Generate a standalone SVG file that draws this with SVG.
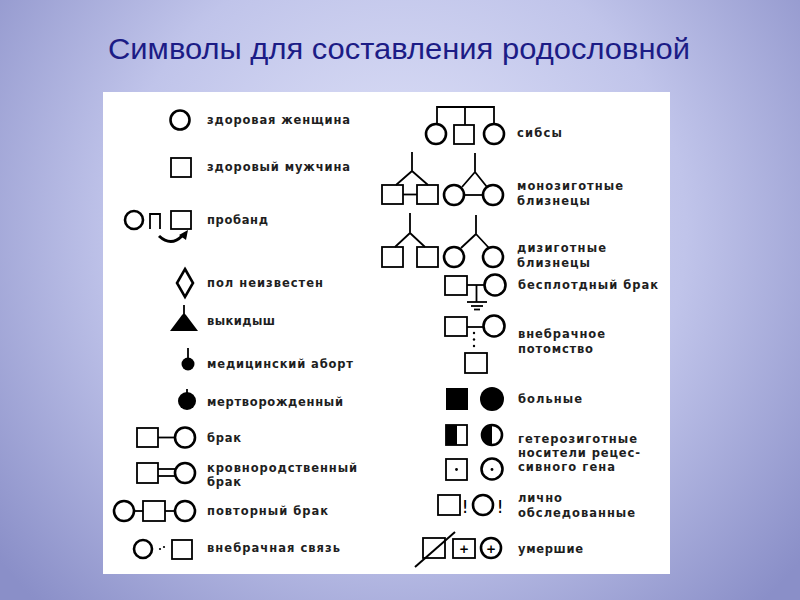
<svg xmlns="http://www.w3.org/2000/svg" width="800" height="600" viewBox="0 0 800 600">
<defs>
<radialGradient id="bg" cx="400" cy="230" r="520" gradientUnits="userSpaceOnUse">
<stop offset="0" stop-color="#e2e5f9"/>
<stop offset="0.55" stop-color="#c0c4ea"/>
<stop offset="1" stop-color="#8a8fc8"/>
</radialGradient>
<style>
.t{font-family:"DejaVu Sans",Verdana,sans-serif;font-weight:bold;font-size:11.5px;fill:#1e1e1e}
.c{fill:none;stroke:#000;stroke-width:2.6}
.s{fill:none;stroke:#000;stroke-width:1.8}
.l{fill:none;stroke:#000;stroke-width:1.8}
.f{fill:#000;stroke:none}
.x{font-family:"DejaVu Sans",Verdana,sans-serif;fill:#000;text-rendering:geometricPrecision}
</style>
</defs>
<rect width="800" height="600" fill="url(#bg)"/>
<text x="108" y="59" font-family="Liberation Sans, Arial, sans-serif" font-size="29" fill="#1c1c86" textLength="582" lengthAdjust="spacingAndGlyphs">Символы для составления родословной</text>
<rect x="103" y="92" width="567" height="482" fill="#fff"/>

<g id="connectors">
<path class="l" d="M150,229 V214 H160 V229"/>
<path fill="none" stroke="#000" stroke-width="3" d="M159,236 Q171,247 182,236"/>
<polygon class="f" points="188,230 186,240 179,235"/>
<line class="l" x1="184" y1="305" x2="184" y2="315"/>
<line class="l" x1="188" y1="348" x2="188" y2="360"/>
<line class="l" x1="187" y1="389" x2="187" y2="394"/>
<line class="l" x1="158" y1="437.5" x2="175" y2="437.5"/>
<line class="l" x1="158" y1="469" x2="175" y2="469"/>
<line class="l" x1="158" y1="476" x2="175" y2="476"/>
<line class="l" x1="134" y1="511" x2="143" y2="511"/>
<line class="l" x1="165" y1="511" x2="175" y2="511"/>
<circle class="f" cx="160" cy="549" r="1.1"/>
<circle class="f" cx="164" cy="547" r="1.1"/>
<path class="l" d="M437,123 V107 H494 V123 M465,107 V125"/>
<path class="l" d="M412,152 V171 L396,185 M412,171 L428,185"/>
<line class="l" x1="403" y1="194.5" x2="417" y2="194.5"/>
<path class="l" d="M475,153 V172 L462,187 M475,172 L487,187"/>
<line class="l" x1="465" y1="195" x2="483" y2="195"/>
<path class="l" d="M410,213 V233 L395,247 M410,233 L425,247"/>
<path class="l" d="M476,215 V234 L461,248 M476,234 L489,248"/>
<line class="l" x1="467" y1="285" x2="484" y2="285"/>
<line class="l" x1="476.5" y1="285" x2="476.5" y2="302"/>
<line class="l" x1="467" y1="302" x2="487" y2="302"/>
<line class="l" x1="471" y1="306" x2="483" y2="306"/>
<line class="l" x1="474" y1="309.5" x2="480" y2="309.5"/>
<line class="l" x1="467" y1="327" x2="483" y2="327"/>
<circle class="f" cx="474" cy="333" r="1.2"/>
<circle class="f" cx="474" cy="339.5" r="1.2"/>
<circle class="f" cx="474" cy="346" r="1.2"/>
<line stroke="#000" stroke-width="2" x1="415" y1="567" x2="455" y2="532"/>
</g>

<g id="healthy-female">
<circle class="c" cx="180" cy="120" r="9.5"/>
<text class="t" x="207" y="124" textLength="143">здоровая женщина</text>
</g>
<g id="healthy-male">
<rect class="s" x="171" y="158" width="20" height="19"/>
<text class="t" x="207" y="171" textLength="143">здоровый мужчина</text>
</g>
<g id="proband">
<circle class="c" cx="134" cy="220" r="9"/>
<rect class="s" x="171" y="211" width="20" height="18"/>
<text class="t" x="207" y="224" textLength="61">пробанд</text>
</g>
<g id="sex-unknown">
<polygon class="c" points="185,269 193,283 185,297 177,283"/>
<text class="t" x="207" y="287" textLength="116">пол неизвестен</text>
</g>
<g id="miscarriage">
<path class="f" d="M170,331 L182,315 Q184,312 186,315 L198,331 Z"/>
<text class="t" x="207" y="325" textLength="68">выкидыш</text>
</g>
<g id="abortion">
<circle class="f" cx="188" cy="364" r="6.5"/>
<text class="t" x="207" y="368" textLength="146">медицинский аборт</text>
</g>
<g id="stillborn">
<circle class="f" cx="187" cy="401" r="9"/>
<text class="t" x="207" y="406" textLength="136">мертворожденный</text>
</g>
<g id="marriage">
<rect class="s" x="137" y="428" width="21" height="19"/>
<circle class="c" cx="185" cy="437.5" r="10"/>
<text class="t" x="207" y="442" textLength="34">брак</text>
</g>
<g id="consanguineous">
<rect class="s" x="137" y="463" width="21" height="20"/>
<circle class="c" cx="185" cy="473" r="10"/>
<text class="t" x="207" y="472" textLength="150">кровнородственный</text>
<text class="t" x="207" y="486" textLength="34">брак</text>
</g>
<g id="remarriage">
<circle class="c" cx="124" cy="511" r="10"/>
<rect class="s" x="143" y="501" width="22" height="20"/>
<circle class="c" cx="185" cy="511" r="10"/>
<text class="t" x="207" y="515" textLength="121">повторный брак</text>
</g>
<g id="extramarital">
<circle class="c" cx="143" cy="549" r="9"/>
<rect class="s" x="172" y="540" width="20" height="19"/>
<text class="t" x="207" y="552" textLength="133">внебрачная связь</text>
</g>

<g id="siblings">
<circle class="c" cx="436" cy="134" r="10"/>
<rect class="s" x="454" y="125" width="20" height="19"/>
<circle class="c" cx="494" cy="134" r="10"/>
<text class="t" x="517" y="137" textLength="45">сибсы</text>
</g>
<g id="monozygotic">
<rect class="s" x="382" y="185" width="21" height="19"/>
<rect class="s" x="417" y="185" width="21" height="19"/>
<circle class="c" cx="454" cy="195" r="10"/>
<circle class="c" cx="493" cy="195" r="10"/>
<text class="t" x="517" y="190" textLength="106">монозиготные</text>
<text class="t" x="517" y="205" textLength="73">близнецы</text>
</g>
<g id="dizygotic">
<rect class="s" x="382" y="247" width="21" height="20"/>
<rect class="s" x="417" y="247" width="21" height="20"/>
<circle class="c" cx="454" cy="257" r="10"/>
<circle class="c" cx="493" cy="257" r="10"/>
<text class="t" x="517" y="252" textLength="89">дизиготные</text>
<text class="t" x="517" y="267" textLength="73">близнецы</text>
</g>
<g id="childless">
<rect class="s" x="445" y="276" width="22" height="19"/>
<circle class="c" cx="495" cy="285" r="10.5"/>
<text class="t" x="518" y="289" textLength="140">бесплотдный брак</text>
</g>
<g id="offspring">
<rect class="s" x="445" y="317" width="22" height="19"/>
<circle class="c" cx="494" cy="326" r="10.5"/>
<rect class="s" x="465" y="353" width="22" height="20"/>
<text class="t" x="518" y="338" textLength="87">внебрачное</text>
<text class="t" x="518" y="353" textLength="75">потомство</text>
</g>
<g id="affected">
<rect class="f" x="446" y="388" width="22" height="22"/>
<circle class="f" cx="492" cy="399" r="12"/>
<text class="t" x="518" y="403" textLength="64">больные</text>
</g>
<g id="heterozygous">
<rect class="f" x="446" y="425" width="11" height="20"/>
<rect class="s" x="446" y="425" width="21" height="20"/>
<path class="f" d="M492,425 A10,10 0 0 0 492,445 Z"/>
<circle class="c" cx="492" cy="435" r="10"/>
<text class="t" x="518" y="443" textLength="119">гетерозиготные</text>
<text class="t" x="518" y="457" textLength="122">носители рецес-</text>
<text class="t" x="518" y="471" textLength="97">сивного гена</text>
</g>
<g id="carriers">
<rect class="s" x="446" y="459" width="21" height="21"/>
<circle class="f" cx="456.5" cy="469.5" r="1.4"/>
<circle class="c" cx="492" cy="469" r="10.5"/>
<circle class="f" cx="492" cy="469.5" r="1.4"/>
</g>
<g id="examined">
<rect class="s" x="438" y="495" width="22" height="20"/>
<text class="x" x="465" y="513" font-size="18" text-anchor="middle">!</text>
<circle class="c" cx="483" cy="505" r="10"/>
<text class="x" x="500" y="513" font-size="18" text-anchor="middle">!</text>
<text class="t" x="518" y="502" textLength="44">лично</text>
<text class="t" x="518" y="517" textLength="117">обследованные</text>
</g>
<g id="deceased">
<rect class="s" x="423" y="538" width="22" height="20"/>
<rect class="s" x="453" y="539" width="22" height="19"/>
<text class="x" x="464" y="552.5" font-size="12" font-weight="bold" text-anchor="middle">+</text>
<circle class="c" cx="491" cy="548" r="10"/>
<text class="x" x="491" y="552.5" font-size="12" font-weight="bold" text-anchor="middle">+</text>
<text class="t" x="518" y="553" textLength="65">умершие</text>
</g>
</svg>
